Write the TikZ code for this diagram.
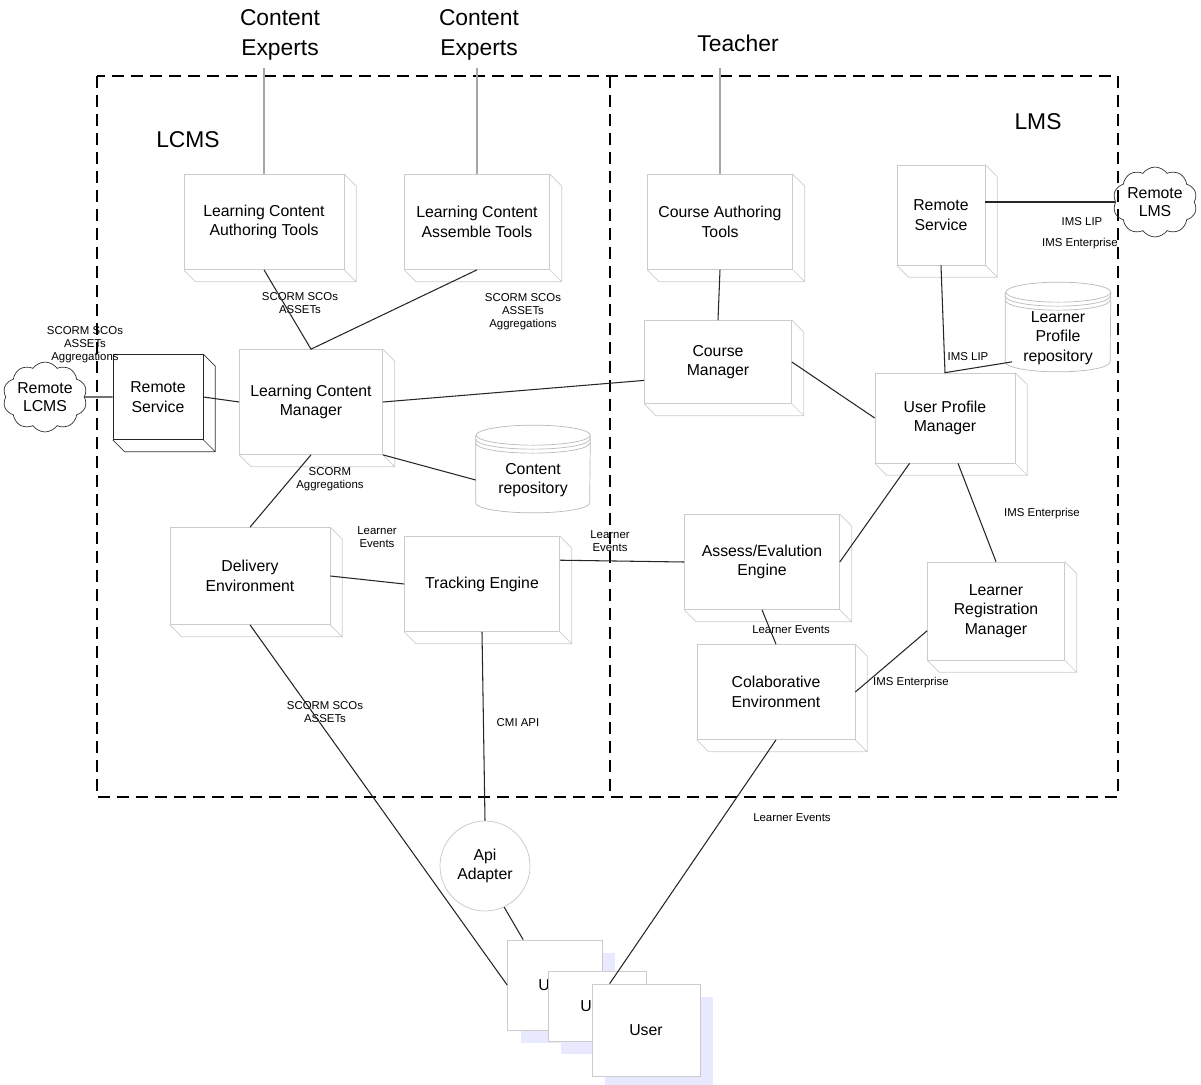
\documentclass[tikz,border=0pt]{standalone}
\usepackage{fontspec}
\setmainfont{Liberation Sans}
\usetikzlibrary{shapes.symbols, shadows}

\begin{document}
\begin{tikzpicture}[
    x=0.02cm, y=-0.02cm,
    box/.style={rectangle, draw=gray!40, fill=white, align=center, font=\fontsize{9}{11}\selectfont, inner sep=1pt},
    cloudy/.style={cloud, cloud puffs=10, cloud puff arc=110, draw=black!80, aspect=1.3, inner sep=0pt, align=center, font=\fontsize{9}{10}\selectfont},
    store/.style={rectangle, align=center, inner sep=0pt, font=\fontsize{9}{11}\selectfont},
    db/.style={draw=gray!55},
    actor/.style={align=center, font=\fontsize{13}{17}\selectfont},
    tag/.style={align=center, font=\fontsize{6.5}{7.5}\selectfont},
    user/.style={rectangle, draw=gray!40, fill=white, font=\fontsize{9}{11}\selectfont, copy shadow={fill=blue!9, draw=none, shadow xshift=0.26cm, shadow yshift=-0.26cm}},
    link/.style={draw=black!85, line width=0.6pt},
    feed/.style={draw=gray!70, line width=0.6pt},
    zone/.style={dash pattern=on 0.24cm off 0.14cm, line width=1.1pt}
]
    \useasboundingbox (0,0) rectangle (1201,1085);

    % Boundaries
    \draw[zone] (97,76) rectangle (1118,797);
    \draw[zone] (610,76) -- (610,797);
    \coordinate (rim) at (0,68);

    % Actors and areas
    \node[actor] (ce1) at (280,35) {Content\\Experts};
    \node[actor] (ce2) at (479,35) {Content\\Experts};
    \node[actor] (teach) at (738,43) {Teacher};
    \node[actor] (lcmslbl) at (188,140) {LCMS};
    \node[actor] (lmslbl) at (1038,122) {LMS};

    % LCMS side
    \node[box, minimum width=3.2cm, minimum height=1.9cm] (lcat) at (264,222) {Learning Content\\Authoring Tools};
    \node[box, minimum width=2.9cm, minimum height=1.9cm] (lcast) at (477,222) {Learning Content\\Assemble Tools};
    \node[cloudy, minimum width=1.56cm, minimum height=1.24cm] (rlcms) at (45,397) {Remote\\LCMS};
    \node[box, draw=black!85, minimum width=1.8cm, minimum height=1.7cm] (rsl) at (158,397) {Remote\\Service};
    \node[box, minimum width=2.86cm, minimum height=2.1cm] (lcm) at (311,402) {Learning Content\\Manager};
    \node[store, minimum width=2.28cm, minimum height=1.3cm] (crepo) at (533,480) {Content\\repository};
    \node[box, minimum width=3.2cm, minimum height=1.94cm] (de) at (250,576) {Delivery\\Environment};
    \node[box, minimum width=3.1cm, minimum height=1.9cm] (te) at (482,584) {Tracking Engine};

    % LMS side
    \node[box, minimum width=2.9cm, minimum height=1.9cm] (cat) at (720,222) {Course Authoring\\Tools};
    \node[box, minimum width=1.76cm, minimum height=2cm] (rsr) at (941,215) {Remote\\Service};
    \node[cloudy, minimum width=1.5cm, minimum height=1.1cm] (rlms) at (1155,202) {Remote\\LMS};
    \node[store, minimum width=2.1cm, minimum height=1.34cm] (lpr) at (1058,338) {Learner\\Profile\\repository};
    \node[box, minimum width=2.94cm, minimum height=1.66cm] (cm) at (718,362) {Course\\Manager};
    \node[box, minimum width=2.8cm, minimum height=1.8cm] (upm) at (945,418) {User Profile\\Manager};
    \node[box, minimum width=3.1cm, minimum height=1.9cm] (ae) at (762,562) {Assess/Evalution\\Engine};
    \node[box, minimum width=2.74cm, minimum height=1.96cm] (lrm) at (996,611) {Learner\\Registration\\Manager};
    \node[box, minimum width=3.16cm, minimum height=1.9cm] (ce) at (776,692) {Colaborative\\Environment};

    % Outside
    \node[circle, draw=gray!45, minimum size=1.8cm, align=center, font=\fontsize{9}{11}\selectfont] (api) at (485,866) {Api\\Adapter};
    \node[user, minimum width=1.9cm, minimum height=1.8cm] (u1) at (555,985) {User};
    \node[user, minimum width=1.96cm, minimum height=1.4cm] (u2) at (597,1006) {User};
    \node[user, minimum width=2.16cm, minimum height=1.84cm] (u3) at (646,1030) {User};

    % Box depth
    \foreach \b/\col in {lcat/gray!40, lcast/gray!40, cat/gray!40, rsr/gray!40, cm/gray!40, upm/gray!40, lcm/gray!40, de/gray!40, te/gray!40, ae/gray!40, lrm/gray!40, ce/gray!40, rsl/black!80}
        \draw[draw=\col] (\b.north east) -- ++(12,12) |- ([shift={(12,12)}]\b.south west) -- (\b.south west)
            (\b.south east) -- ++(12,12);

    % Repositories
    \foreach \r/\rx in {crepo/1.14cm, lpr/1.05cm} {
        \draw[db] ([yshift=0.24cm]\r.north west) -- ([yshift=0.2cm]\r.south west)
            arc[start angle=180, end angle=360, x radius=\rx, y radius=0.2cm]
            -- ([yshift=0.24cm]\r.north east)
            arc[start angle=0, end angle=360, x radius=\rx, y radius=0.2cm];
        \draw[db] ([yshift=0.16cm]\r.north west) arc[start angle=180, end angle=360, x radius=\rx, y radius=0.2cm];
        \draw[db] ([yshift=0.08cm]\r.north west) arc[start angle=180, end angle=360, x radius=\rx, y radius=0.2cm];
    }

    % Labels
    \node[tag] (tremote) at (85,345) {SCORM SCOs\\ASSETs\\Aggregations};
    \node[tag] (tauthor) at (300,303) {SCORM SCOs\\ASSETs};
    \node[tag] (tassem) at (523,312) {SCORM SCOs\\ASSETs\\Aggregations};
    \node[tag] (tdeliv) at (330,479) {SCORM\\Aggregations};
    \node[tag] (ttrack) at (377,537) {Learner\\Events};
    \node[tag] (tassess) at (610,541) {Learner\\Events};
    \node[tag] (tcmi) at (518,723) {CMI API};
    \node[tag] (tuser) at (325,712) {SCORM SCOs\\ASSETs};
    \node[tag] (tcollab) at (792,818) {Learner Events};
    \node[tag] (tlip) at (968,357) {IMS LIP};
    \node[tag] (trlip) at (1082,222) {IMS LIP};
    \node[tag] (trent) at (1080,244) {IMS Enterprise};
    \node[tag] (tregent) at (1042,514) {IMS Enterprise};
    \node[tag] (tevents) at (791,630) {Learner Events};
    \node[tag] (tcolent) at (911,683) {IMS Enterprise};

    % Connectors
    \draw[feed] (lcat.north |- rim) -- (lcat.north);
    \draw[feed] (lcast.north |- rim) -- (lcast.north);
    \draw[feed] (cat.north |- rim) -- (cat.north);
    \draw[link] (lcat.south) -- (lcm.north) -- (lcast.south);
    \draw[link] (cat.south) -- (cm.north);
    \draw[link] (rlcms.east) -- (rsl.west);
    \draw[link] (rsl.east) -- (lcm.west);
    \draw[link] (lcm.east) -- (cm.194);
    \draw[link] (lcm.south east) -- (crepo.west);
    \draw[link] (lcm.south) -- (de.north);
    \draw[link] (de.east) -- (te.west);
    \draw[link] (te.17) -- (ae.west);
    \draw[link] (te.south) -- (api.north);
    \draw[link] (api.-65) -- ([xshift=0.32cm]u1.north west);
    \draw[link] (de.south) -- (u1.west);
    \draw[link] (ce.south) -- ([xshift=0.36cm]u3.north west);
    \draw[link] (cm.east) -- (upm.west);
    \draw[link] (rsr.south) -- (upm.north) -- ([shift={(0.14cm,0.2cm)}]lpr.south west);
    \draw[link] (rsr.east |- rlms.west) -- (rlms.west);
    \draw[link] (upm.232) -- (ae.east);
    \draw[link] (upm.286) -- (lrm.north);
    \draw[link] (ae.south) -- (ce.north);
    \draw[link] (ce.east) -- (lrm.196);

\end{tikzpicture}
\end{document}
